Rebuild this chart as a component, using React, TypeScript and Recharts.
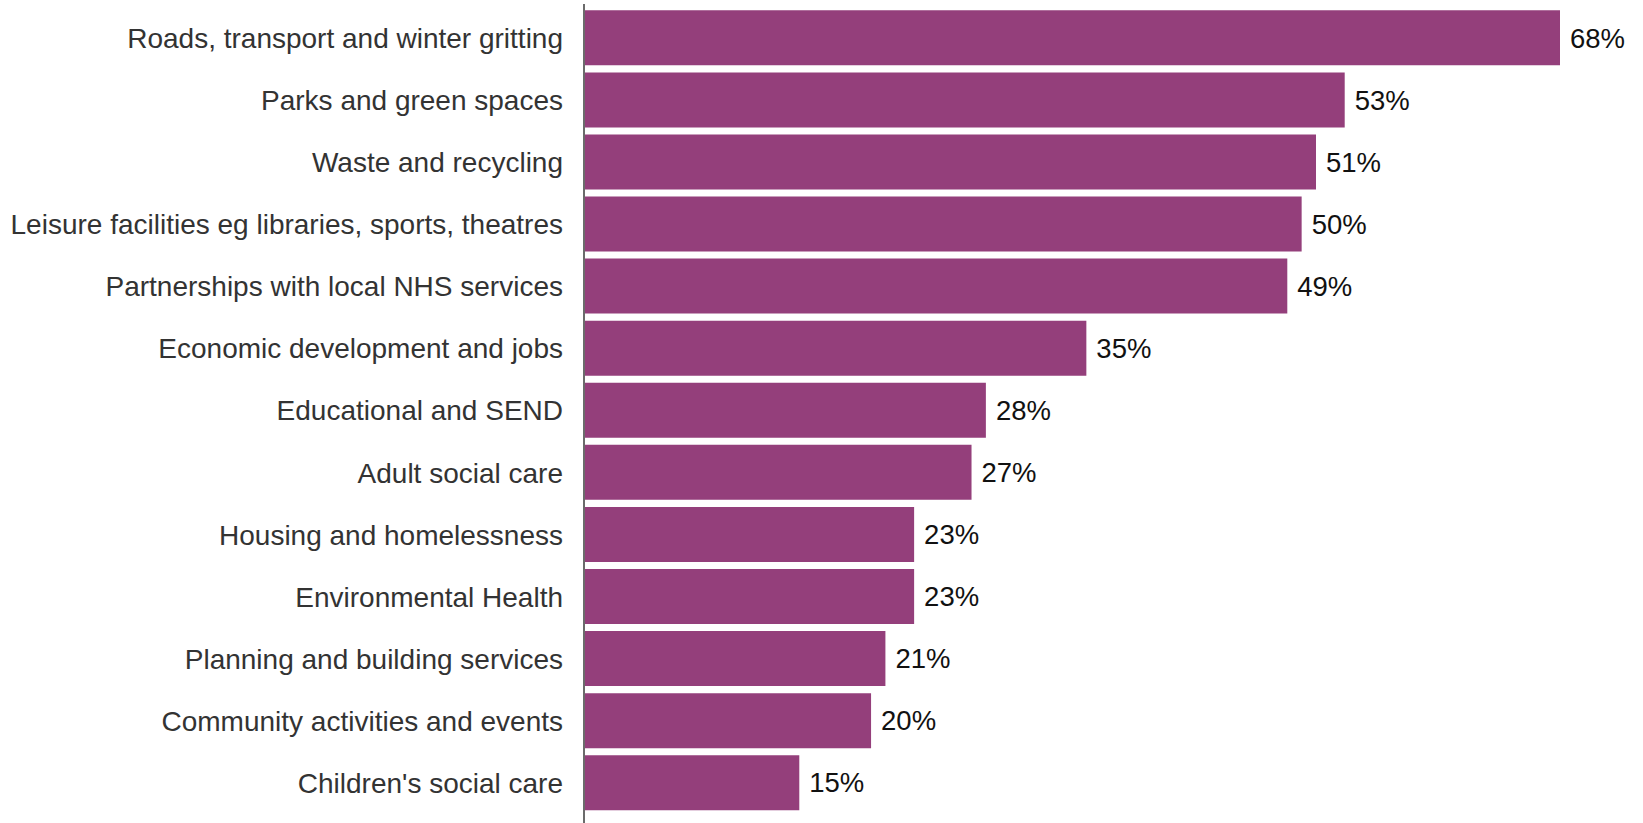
import React from 'react';
import { BarChart, Bar, XAxis, YAxis, LabelList } from 'recharts';

const services = [
  'Roads, transport and winter gritting',
  'Parks and green spaces',
  'Waste and recycling',
  'Leisure facilities eg libraries, sports, theatres',
  'Partnerships with local NHS services',
  'Economic development and jobs',
  'Educational and SEND',
  'Adult social care',
  'Housing and homelessness',
  'Environmental Health',
  'Planning and building services',
  'Community activities and events',
  "Children's social care",
];

const shares = [68, 53, 51, 50, 49, 35, 28, 27, 23, 23, 21, 20, 15];

const data = services.map((name, i) => ({ name, value: shares[i] }));

const App: React.FC = () => {
  return (
    <div style={{ position: 'absolute', left: 0, top: 0 }}>
      <BarChart
        width={1643}
        height={823}
        data={data}
        layout="vertical"
        margin={{ top: 4, right: 83, bottom: 0, left: 0 }}
        barCategoryGap={3.3}
      >
        <XAxis type="number" domain={[0, 68]} hide />
        <YAxis
          type="category"
          dataKey="name"
          width={584}
          padding={{ top: 3, bottom: 9 }}
          tickLine={false}
          tickSize={0}
          tickMargin={21}
          axisLine={{ stroke: '#6b6b6b', strokeWidth: 2 }}
          tick={{ fill: '#333333', fontSize: 28, fontFamily: 'Liberation Sans, Arial, sans-serif' }}
          interval={0}
        />
        <Bar dataKey="value" fill="#943f7b" isAnimationActive={false}>
          <LabelList
            dataKey="value"
            position="right"
            offset={10}
            formatter={(v: number) => `${v}%`}
            style={{ fill: '#111111', fontSize: 27.5, fontFamily: 'Liberation Sans, Arial, sans-serif' }}
          />
        </Bar>
      </BarChart>
    </div>
  );
};

export default App;
